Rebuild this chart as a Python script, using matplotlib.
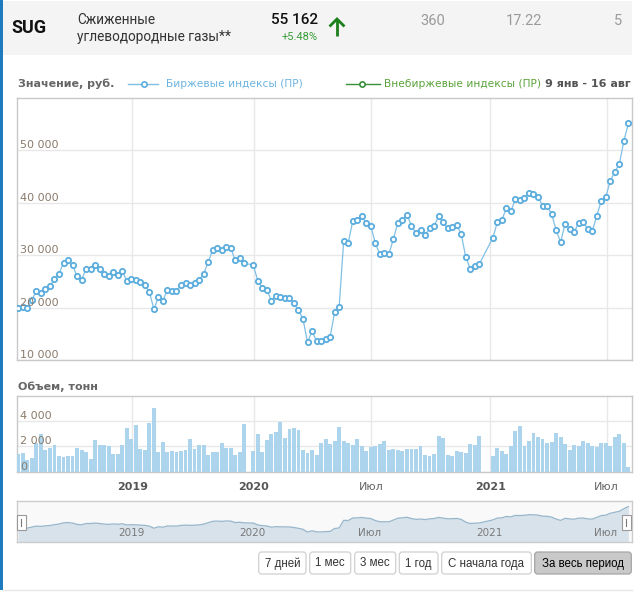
import numpy as np
import matplotlib
matplotlib.use('Agg')
import matplotlib.pyplot as plt
from matplotlib.patches import Rectangle, FancyBboxPatch

# ---------------- data ----------------
price = [19940, 20060, 19940, 21500, 23100, 22700, 23600, 24100, 25500, 26500,
         28500, 29000, 28100, 26000, 25300, 27400, 27400, 28100, 27400, 26400,
         26000, 26800, 26200, 27000, 25100, 25500, 25200, 24800, 24300, 23000,
         19700, 22000, 21300, 23400, 23200, 23200, 24300, 24700, 24400, 24600,
         25200, 26400, 28700, 31000, 31400, 30900, 31600, 31400, 29000, 29500,
         28500, None, 28100, 25100, 23800, 23400, 21300, 22200, 22000, 21800,
         21800, 20800, 19500, 17800, 13400, 15500, 13600, 13600, 13960, 14400,
         19170, 20130, 32700, 32300, 36500, 36700, 37400, 36200, 35600, 32300,
         30200, 30400, 30200, 33100, 36200, 36700, 37700, 35600, 34200, 34800,
         33800, 35100, 35600, 37400, 36300, 35100, 35300, 35800, 34100, 29700,
         27400, 28000, 28300, None, None, 33300, 36300, 36700, 39000, 38400,
         40700, 40500, 40900, 41900, 41700, 41200, 39400, 39400, 37900, 34800,
         32500, 36000, 35000, 34400, 36200, 36300, 35000, 34600, 37500, 40400,
         41100, 44200, 45900, 47400, 51800, 55162]

volume = [1400, 1480, 935, 1090, 2260, 2960, 1690, 1870, 2100, 1270,
          1170, 1270, 1270, 1870, 1710, 1560, 1010, 2490, 2100, 2100,
          2030, 1400, 1400, 2100, 3430, 2570, 3660, 1790, 1710, 3870,
          4990, 1560, 2340, 1560, 1640, 1560, 1640, 1710, 2570, 1790,
          2100, 2100, 1325, 1560, 1560, 2260, 1870, 1870, 1325, 1560,
          3740, None, 1640, 2960, 1560, 2490, 2960, 3120, 3900, 2650,
          3350, 3430, 3270, 1710, 1480, 1710, 1325, 2260, 2570, 2180,
          2420, 3510, 2420, 2260, 2100, 2570, 2030, 1640, 1950, 2030,
          2180, 2420, 1710, 1790, 1710, 1640, 1790, 1790, 1790, 2050,
          1325, 1250, 1400, 2800, 2650, 1325, 1250, 1640, 1560, 1480,
          2180, 2100, 2800, None, None, 1250, 1870, 1640, 1400, 2030,
          3190, 3580, 2030, 2420, 3040, 2730, 2570, 2260, 2340, 3040,
          2730, 2180, 1710, 2100, 2030, 2420, 2260, 2030, 1950, 2260,
          2260, 2030, 2730, 2960, 2260, 390]

tick_labels = ['2019', '2020', 'Июл', '2021', 'Июл']
tick_bold = [True, True, False, True, False]
tick_pos = [25.2, 52.1, 78.0, 104.4, 130.2]   # ordinal positions of the date ticks

price_ticks = [10000, 20000, 30000, 40000, 50000]
volume_ticks = [0, 2000, 4000]

ticker = 'SUG'
name_lines = ['Сжиженные', 'углеводородные газы**']
last_value = '55 162'
change = '+5.48%'
extra_cols = ['360', '17.22', '5']
legend_names = ['Биржевые индексы (ПР)', 'Внебиржевые индексы (ПР)']
period_text = '9 янв - 16 авг'
buttons = ['7 дней', '1 мес', '3 мес', '1 год', 'С начала года', 'За весь период']

# ---------------- figure ----------------
W, H = 644, 594
fig = plt.figure(figsize=(W / 100, H / 100), dpi=100)
plt.rcParams['font.family'] = ['DejaVu Sans']


def ax_px(x0, y0, x1, y1, **kw):
    return fig.add_axes([x0 / W, 1 - y1 / H, (x1 - x0) / W, (y1 - y0) / H], **kw)


def fmt(v):
    return f'{v:,}'.replace(',', ' ')


# background / header layer
bg = fig.add_axes([0, 0, 1, 1], zorder=-5)
bg.set_xlim(0, W)
bg.set_ylim(H, 0)
bg.axis('off')
bg.add_patch(Rectangle((3, 1), 629, 54, color='#f4f4f4', lw=0))
bg.add_patch(Rectangle((0, 0), 3, 590, color='#1f7bbf', lw=0))
bg.plot([3, 632], [590, 590], color='#e6e6e6', lw=1)

bg.text(11, 28, ticker, family='Roboto', fontweight='bold', fontsize=13,
        color='#111111', va='center', ha='left')
bg.text(77, 20, name_lines[0], family='Roboto', fontsize=9.8, color='#333333', va='center')
bg.text(77, 37, name_lines[1], family='Roboto', fontsize=9.8, color='#333333', va='center')
bg.text(318, 20, last_value, family='Roboto', fontweight='medium', fontsize=11,
        color='#111111', va='center', ha='right')
bg.text(318, 37, change, family='Roboto', fontsize=8, color='#3a9d3a', va='center', ha='right')
# up arrow
bg.plot([337, 337], [36, 19], color='#1b7f1b', lw=2.0, solid_capstyle='butt')
bg.plot([330.5, 337, 343.5], [25.5, 19, 25.5], color='#1b7f1b', lw=2.0,
        solid_joinstyle='miter')
for txt, xc in zip(extra_cols, [432.5, 524.5, 618.5]):
    bg.text(xc, 21, txt, family='Roboto', fontsize=10.5,
            color='#9a9a9a', va='center', ha='center')

# legend row (clipped at right edge)
lg = ax_px(0, 70, 632, 97)
lg.set_xlim(0, 632)
lg.set_ylim(97, 70)
lg.axis('off')
lg.text(18, 84, 'Значение, руб.', fontsize=8, fontweight='bold', color='#666666',
        va='center', clip_on=True)
lg.plot([128, 158], [84, 84], color='#7fbfe6', lw=1)
lg.plot([144], [84], 'o', ms=3.8, mfc='white', mec='#5badde', mew=1.2)
lg.text(166, 84, legend_names[0], fontsize=7.7, color='#6cb4e0', va='center', clip_on=True)
lg.plot([346, 380], [84, 84], color='#3a8f3a', lw=1)
lg.plot([362], [84], 'o', ms=3.8, mfc='white', mec='#3a8f3a', mew=1.2)
lg.text(384, 84, legend_names[1], fontsize=7.7, color='#5aa33a', va='center', clip_on=True)
lg.text(545, 84, period_text, fontsize=8, fontweight='bold', color='#555555',
        va='center', clip_on=True)

x_all = np.arange(len(price))
p_arr = np.array([np.nan if v is None else v for v in price], dtype=float)
v_arr = np.array([np.nan if v is None else v for v in volume], dtype=float)
pm = ~np.isnan(p_arr)
vm = ~np.isnan(v_arr)
XL = (-0.29, 135.8)


def style_axes(a):
    for s in a.spines.values():
        s.set_color('#c8c8c8')
        s.set_linewidth(1)
    a.tick_params(left=False, bottom=False, labelleft=False, labelbottom=False)
    a.set_xticks(tick_pos)
    a.grid(True, color='#e8e8e8', lw=1)
    a.set_axisbelow(True)


# main price chart
ax = ax_px(17, 98, 632, 360)
ax.set_xlim(*XL)
ax.set_ylim(10000, 60000)
ax.set_yticks(price_ticks)
style_axes(ax)
ax.plot(x_all[pm], p_arr[pm], color='#80c0e6', lw=0.9, zorder=3)
ax.plot(x_all[pm], p_arr[pm], 'o', ms=3.8, mfc='white', mec='#5badde', mew=1.3, zorder=4)
for v in price_ticks:
    ax.annotate(fmt(v), xy=(0, v), xycoords=('axes fraction', 'data'),
                xytext=(3, 0), textcoords='offset pixels', fontsize=8,
                color='#8a7b6c', va='bottom', ha='left', zorder=5)

# volume chart
fig.text(18 / W, 1 - 387 / H, 'Объем, тонн', fontsize=8, fontweight='bold',
         color='#666666', va='center')
av = ax_px(17, 396, 632, 472)
av.set_xlim(*XL)
av.set_ylim(0, 5950)
av.set_yticks(volume_ticks)
style_axes(av)
av.bar(x_all[vm], v_arr[vm], width=0.86, color='#acd5ed', lw=0, zorder=3)
for v in volume_ticks:
    av.annotate(fmt(v), xy=(0, v), xycoords=('axes fraction', 'data'),
                xytext=(3, 0), textcoords='offset pixels', fontsize=8,
                color='#8a7b6c', va='bottom', ha='left', zorder=5)
for pos, lab, b in zip(tick_pos, tick_labels, tick_bold):
    av.annotate(lab, xy=(pos, 0), xycoords=('data', 'axes fraction'),
                xytext=(0, -15), textcoords='offset pixels', ha='center', va='center',
                fontsize=8, fontweight='bold' if b else 'normal',
                color='#555555' if b else '#666666', annotation_clip=False)

# navigator
an = ax_px(17, 501, 632, 542)
an.set_xlim(*XL)
an.set_ylim(-3000, 64400)
an.set_facecolor('#f9f9f9')
for s in an.spines.values():
    s.set_color('#cccccc')
    s.set_linewidth(1)
an.tick_params(left=False, bottom=False, labelleft=False, labelbottom=False)
an.fill_between(x_all[pm], p_arr[pm], -3000, color='#d8e2ea', lw=0)
an.plot(x_all[pm], p_arr[pm], color='#96b6cc', lw=0.9)
for pos, lab in zip(tick_pos, tick_labels):
    an.annotate(lab, xy=(pos, 0), xycoords=('data', 'axes fraction'),
                xytext=(-1, 9.5), textcoords='offset pixels', ha='center', va='center',
                fontsize=7.5, color='#7a7a7a')

# overlay: navigator handles and range buttons
ov = fig.add_axes([0, 0, 1, 1], zorder=10)
ov.set_xlim(0, W)
ov.set_ylim(H, 0)
ov.axis('off')
ov.patch.set_alpha(0)
for hx in (17.5, 622.5):
    ov.add_patch(Rectangle((hx, 515), 8.5, 15, facecolor='white', edgecolor='#999999', lw=0.8))
    ov.plot([hx + 3.5, hx + 3.5], [519, 526], color='#777777', lw=0.8)

btn_x = [(258.7, 306), (309.7, 350.7), (354.7, 395.7), (399.3, 438),
         (441.7, 531.3), (534.7, 631.3)]
for i, (lab, (x0, x1)) in enumerate(zip(buttons, btn_x)):
    active = i == len(buttons) - 1
    ov.add_patch(FancyBboxPatch((x0, 552), x1 - x0, 22,
                                boxstyle='round,pad=0,rounding_size=3',
                                facecolor='#c9c9c9' if active else 'white',
                                edgecolor='#a5a5a5' if active else '#d0d0d0', lw=0.9))
    ov.text((x0 + x1) / 2, 563.5, lab, family='Liberation Sans', fontsize=8.3,
            color='#000000' if active else '#333333', ha='center', va='center')

fig.savefig('out.png', dpi=100)
